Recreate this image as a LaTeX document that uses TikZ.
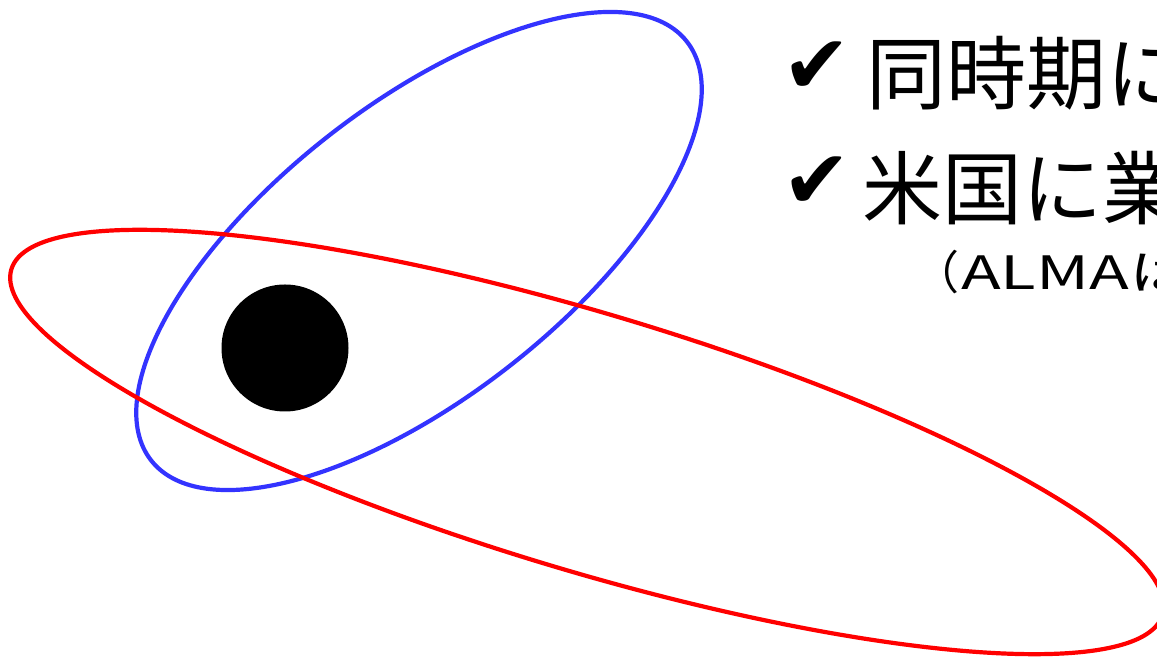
\documentclass[tikz,border=0pt]{standalone}
\usepackage{fontspec}
\newfontfamily\jpfont{Noto Sans CJK JP}
\newfontfamily\symfont{DejaVu Sans}
\definecolor{orbitblue}{RGB}{51,51,255}
\definecolor{orbitred}{RGB}{255,0,0}
\begin{document}
\begin{tikzpicture}[x=1pt,y=1pt,
  orbit/.style={line width=4.2pt},
  bigtext/.style={inner sep=0pt,anchor=base west,font=\jpfont\fontsize{80}{80}\selectfont},
  smalltext/.style={inner sep=0pt,anchor=base west,font=\jpfont\fontsize{46}{46}\selectfont},
  checkmark/.style={inner sep=0pt,anchor=base west,font=\symfont\fontsize{82}{82}\selectfont}]
\useasboundingbox (0,0) rectangle (1157,658);
\fill[white] (0,0) rectangle (1157,658);
% orbits
\draw[orbit,orbitblue,rotate around={38:(419,407)}] (419,407) ellipse [x radius=340, y radius=146.4];
\draw[orbit,orbitred,rotate around={-16.7:(587,216)}] (587,216) ellipse [x radius=601, y radius=128.7];
% central body
\fill[black] (285,310) circle [radius=63.5];
% text
\node[checkmark] (c1) at (782,564) {✔};
\node[bigtext] (t1) at (866,554) {同時期に};
\node[checkmark] (c2) at (782,449) {✔};
\node[bigtext] (t2) at (862,439) {米国に業};
\node[smalltext] (t3a) at (913,368) {（};
\node[smalltext] (t3b) at (961,368) {\scalebox{1.42}[1]{ALMAは}};
\end{tikzpicture}
\end{document}
